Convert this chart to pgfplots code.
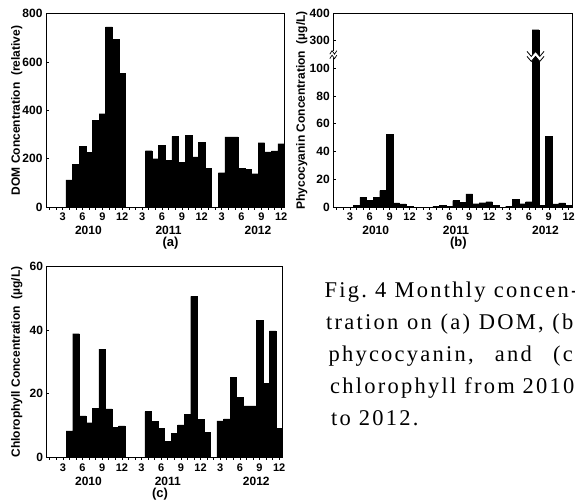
\documentclass[border=0pt]{standalone}
\usepackage{pgfplots}
\pgfplotsset{compat=1.18}
\usepackage{fontspec}
\setmainfont{Liberation Sans}
\newfontfamily\capfont[LetterSpace=10]{Liberation Serif}
\newcommand{\yearfont}{\bfseries\fontsize{12}{13}\selectfont}

\pgfplotsset{
  monthbars/.style={
    scale only axis,
    width=238.5pt, height=193.3pt,
    xmin=0.5, xmax=36.5, ymin=0,
    enlargelimits=false,
    axis line style={line width=0.8pt},
    tick pos=left,
    xtick align=outside, ytick align=inside,
    major tick length=2.5pt, minor tick length=2.5pt,
    every tick/.style={black, line width=0.6pt},
    xtick={3,6,...,36},
    xticklabels={3,6,9,12,3,6,9,12,3,6,9,12},
    minor xtick={1,...,36},
    xticklabel style={font=\bfseries\fontsize{11}{12}\selectfont},
    yticklabel style={font=\bfseries\fontsize{12}{13}\selectfont},
    extra x ticks={6.9,19,32.5},
    extra x tick labels={\yearfont 2010,\yearfont 2011,\yearfont 2012},
    extra x tick style={major tick length=0pt, tick label style={yshift=-16pt}},
    ylabel style={font=\bfseries\fontsize{12}{13}\selectfont, anchor=center},
    ybar, bar width=1,
  },
  monthfill/.style={fill=black, draw=black, line width=0.3pt},
}

\begin{document}
\frenchspacing
\begin{tikzpicture}
\path[use as bounding box] (0,0) rectangle (575pt,499pt);

% (a) DOM
\begin{axis}[monthbars, at={(46pt,292pt)}, anchor=south west,
  ymax=800, ytick={0,200,400,600,800},
  yticklabels={0,200,400,600,800},
  ylabel={DOM Concentration~ (relative)},
  ylabel style={at={(axis description cs:-0.123,0.5)}},
]
\addplot[monthfill] coordinates {
  (4,112) (5,177) (6,252) (7,226) (8,359) (9,386) (10,745) (11,695) (12,552)
  (16,233) (17,200) (18,254) (19,192) (20,292) (21,186) (22,297) (23,207) (24,269) (25,161)
  (27,142) (28,290) (29,290) (30,159) (31,156) (32,138) (33,266) (34,228) (35,232) (36,262)
};
\end{axis}

% (b) phycocyanin, broken y axis between 100 and 300
\begin{axis}[monthbars, at={(333.3pt,292pt)}, anchor=south west,
  width=238.7pt, clip=false,
  y coord trafo/.code={\pgfmathparse{#1>150 ? 120+0.192*(#1-300) : #1}},
  y coord inv trafo/.code={\pgfmathparse{#1>110 ? 300+(#1-120)/0.192 : #1}},
  ymax=400, ytick={0,20,40,60,80,100,300,400},
  yticklabels={0,20,40,60,80,100,300,400},
  ylabel={Phycocyanin Concentration~ (µg/L)},
  ylabel style={at={(axis description cs:-0.132,0.5)}},
]
\addplot[monthfill] coordinates {
  (4,1.2) (5,7) (6,4.8) (7,7) (8,11.8) (9,52.5) (10,3) (11,2.3) (12,0.5)
  (16,0.7) (17,1.4) (18,0.7) (19,4.6) (20,3.6) (21,9.4) (22,2.4) (23,3.1) (24,3.8) (25,1.2)
  (27,0.7) (28,5.3) (29,2.4) (30,3.8) (31,340) (32,1) (33,51) (34,2.2) (35,2.9) (36,1)
};
% break marks
\coordinate (p) at (axis cs:31,0);
\coordinate (q) at (rel axis cs:0,0.779);
\coordinate (bk) at (p |- q);
\fill[white] ([shift={(-8.5pt,5pt)}]bk) -- ([shift={(-4.25pt,0pt)}]bk) -- ([shift={(0pt,5pt)}]bk)
  -- ([shift={(4.25pt,0pt)}]bk) -- ([shift={(8.5pt,5pt)}]bk) -- ([shift={(8.5pt,0pt)}]bk)
  -- ([shift={(4.25pt,-5pt)}]bk) -- ([shift={(0pt,0pt)}]bk) -- ([shift={(-4.25pt,-5pt)}]bk)
  -- ([shift={(-8.5pt,0pt)}]bk) -- cycle;
\draw[line width=0.8pt] ([shift={(-8.5pt,5pt)}]bk) -- ([shift={(-4.25pt,0pt)}]bk) -- ([shift={(0pt,5pt)}]bk)
  -- ([shift={(4.25pt,0pt)}]bk) -- ([shift={(8.5pt,5pt)}]bk);
\draw[line width=0.8pt] ([shift={(-8.5pt,0pt)}]bk) -- ([shift={(-4.25pt,-5pt)}]bk) -- ([shift={(0pt,0pt)}]bk)
  -- ([shift={(4.25pt,-5pt)}]bk) -- ([shift={(8.5pt,0pt)}]bk);
\coordinate (lb) at (rel axis cs:0,0.788);
\fill[white] ([shift={(-1.5pt,-3.5pt)}]lb) rectangle ([shift={(1.5pt,3.5pt)}]lb);
\draw[line width=0.7pt] ([shift={(-3.5pt,0.5pt)}]lb) -- ([shift={(-1.2pt,4pt)}]lb) -- ([shift={(1.2pt,0.5pt)}]lb) -- ([shift={(3.5pt,4pt)}]lb);
\draw[line width=0.7pt] ([shift={(-3.5pt,-4pt)}]lb) -- ([shift={(-1.2pt,-0.5pt)}]lb) -- ([shift={(1.2pt,-4pt)}]lb) -- ([shift={(3.5pt,-0.5pt)}]lb);
\end{axis}

% (c) chlorophyll
\begin{axis}[monthbars, at={(46.5pt,41.7pt)}, anchor=south west,
  width=236pt, height=190.7pt,
  ymax=60, ytick={0,20,40,60},
  yticklabels={0,20,40,60},
  ylabel={Chlorophyll Concentration~ (µg/L)},
  ylabel style={at={(axis description cs:-0.126,0.5)}},
]
\addplot[monthfill] coordinates {
  (4,8.3) (5,38.9) (6,13) (7,10.9) (8,15.4) (9,34) (10,15.2) (11,9.4) (12,9.9)
  (16,14.4) (17,11.3) (18,9.1) (19,5.1) (20,7.6) (21,10.2) (22,13.6) (23,50.6) (24,12) (25,7.8)
  (27,11.5) (28,12.1) (29,25.1) (30,18.9) (31,16.2) (32,16.2) (33,43.2) (34,23.2) (35,39.8) (36,9.1)
};
\end{axis}

\node[font=\bfseries\fontsize{13}{14}\selectfont] at (170.5pt,256pt) {(a)};
\node[font=\bfseries\fontsize{13}{14}\selectfont] at (458.3pt,256pt) {(b)};
\node[font=\bfseries\fontsize{13}{14}\selectfont] at (160pt,4.7pt) {(c)};

\begin{scope}[every node/.style={anchor=base west, inner sep=0pt, font=\capfont\fontsize{22.5}{24}\selectfont}]
\node at (324.3pt,201.3pt) {\makebox[254pt][s]{Fig. 4 Monthly concen-}};
\node at (326pt,169.4pt) {\makebox[257pt][s]{tration on (a) DOM, (b)}};
\node at (328.3pt,137.5pt) {\makebox[254pt][s]{phycocyanin, and (c)}};
\node at (330pt,105.6pt) {chlorophyll from 2010};
\node at (331pt,73.7pt) {to 2012.};
\end{scope}
\end{tikzpicture}
\end{document}
